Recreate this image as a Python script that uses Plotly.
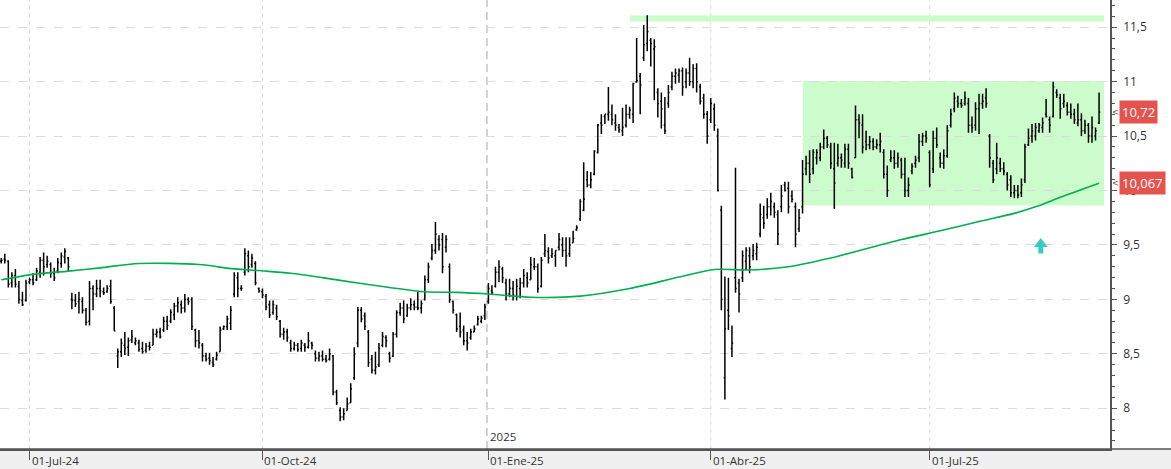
import plotly.graph_objects as go

# ---------------- data ----------------
highs = [
    9.38, 9.42, 9.36, 9.25, 9.28, 9.17, 9.07, 9.18, 9.20, 9.24,
    9.29, 9.39, 9.43, 9.40, 9.34, 9.29, 9.38, 9.43, 9.47, 9.39,
    9.06, 9.05, 9.07, 9.02, 8.92, 9.17, 9.13, 9.18, 9.18, 9.11,
    9.13, 9.18, 8.94, 8.55, 8.64, 8.70, 8.65, 8.72, 8.65, 8.63,
    8.61, 8.60, 8.61, 8.73, 8.73, 8.74, 8.84, 8.85, 8.91, 8.97,
    9.02, 8.99, 9.05, 9.02, 9.02, 8.73, 8.72, 8.60, 8.51, 8.51,
    8.47, 8.52, 8.75, 8.76, 8.85, 8.94, 9.25, 9.25, 9.13, 9.47,
    9.45, 9.42, 9.35, 9.11, 9.10, 9.05, 8.99, 8.99, 8.95, 8.81,
    8.74, 8.73, 8.63, 8.61, 8.60, 8.63, 8.60, 8.70, 8.61, 8.53,
    8.52, 8.53, 8.49, 8.55, 8.49, 8.17, 8.01, 8.00, 8.10, 8.23,
    8.56, 8.93, 8.93, 8.88, 8.72, 8.49, 8.52, 8.60, 8.70, 8.67,
    8.52, 8.70, 8.90, 8.97, 8.99, 8.96, 9.01, 8.99, 9.08, 8.99,
    9.22, 9.34, 9.51, 9.71, 9.59, 9.61, 9.59, 9.33, 8.99, 8.87,
    8.88, 8.76, 8.70, 8.73, 8.76, 8.85, 8.85, 8.96, 9.15, 9.13,
    9.30, 9.36, 9.30, 9.19, 9.19, 9.17, 9.19, 9.20, 9.28, 9.25,
    9.39, 9.38, 9.33, 9.39, 9.60, 9.48, 9.47, 9.45, 9.61, 9.57,
    9.57, 9.57, 9.63, 9.68, 9.92, 10.26, 10.18, 10.17, 10.37, 10.61,
    10.70, 10.70, 10.95, 10.79, 10.70, 10.61, 10.76, 10.79, 10.77, 10.99,
    11.40, 11.08, 11.52, 11.61, 11.40, 11.39, 10.94, 10.90, 10.86, 10.97,
    11.09, 11.12, 11.12, 11.13, 11.12, 11.22, 11.16, 11.17, 10.98, 10.89,
    10.73, 10.85, 10.80, 10.57, 9.86, 9.21, 9.20, 8.76, 10.21, 9.19,
    9.45, 9.48, 9.48, 9.51, 9.52, 9.88, 9.86, 9.93, 9.98, 9.89,
    9.82, 10.05, 10.08, 10.08, 10.00, 9.89, 9.83, 10.28, 10.32, 10.37,
    10.38, 10.38, 10.44, 10.56, 10.50, 10.44, 10.44, 10.43, 10.34, 10.43,
    10.43, 10.21, 10.78, 10.70, 10.70, 10.55, 10.50, 10.48, 10.47, 10.53,
    10.38, 10.23, 10.37, 10.37, 10.35, 10.30, 10.30, 10.12, 10.25, 10.32,
    10.52, 10.53, 10.55, 10.37, 10.55, 10.58, 10.35, 10.38, 10.60, 10.75,
    10.90, 10.87, 10.84, 10.91, 10.85, 10.68, 10.81, 10.89, 10.89, 10.94,
    10.52, 10.28, 10.44, 10.30, 10.26, 10.17, 10.14, 10.05, 10.05, 10.11,
    10.43, 10.57, 10.61, 10.62, 10.62, 10.67, 10.84, 10.68, 11.00, 10.93,
    10.89, 10.89, 10.81, 10.80, 10.75, 10.80, 10.71, 10.65, 10.62, 10.68,
    10.58, 10.90,
]

lows = [
    9.33, 9.33, 9.11, 9.11, 9.11, 8.96, 8.94, 8.98, 9.14, 9.13,
    9.17, 9.20, 9.22, 9.29, 9.20, 9.17, 9.24, 9.29, 9.33, 9.26,
    8.91, 8.93, 8.87, 8.87, 8.76, 8.76, 8.90, 9.02, 9.02, 9.04,
    9.06, 8.96, 8.71, 8.37, 8.47, 8.49, 8.48, 8.60, 8.58, 8.52,
    8.50, 8.51, 8.53, 8.58, 8.65, 8.64, 8.70, 8.72, 8.78, 8.81,
    8.88, 8.87, 8.88, 8.95, 8.72, 8.56, 8.55, 8.43, 8.43, 8.40,
    8.38, 8.44, 8.52, 8.72, 8.72, 8.72, 9.02, 9.02, 9.08, 9.22,
    9.25, 9.29, 9.13, 9.06, 9.01, 8.90, 8.83, 8.86, 8.81, 8.65,
    8.63, 8.61, 8.52, 8.53, 8.52, 8.52, 8.52, 8.55, 8.54, 8.43,
    8.43, 8.43, 8.42, 8.44, 8.12, 8.03, 7.88, 7.89, 7.98, 8.05,
    8.26, 8.56, 8.79, 8.72, 8.38, 8.32, 8.31, 8.38, 8.56, 8.56,
    8.42, 8.47, 8.65, 8.85, 8.78, 8.84, 8.90, 8.90, 8.90, 8.87,
    8.99, 9.15, 9.36, 9.42, 9.45, 9.24, 9.43, 8.97, 8.87, 8.70,
    8.65, 8.58, 8.53, 8.63, 8.70, 8.76, 8.78, 8.81, 8.96, 9.04,
    9.11, 9.16, 9.15, 8.99, 9.02, 8.99, 8.99, 9.01, 9.11, 9.11,
    9.18, 9.27, 9.06, 9.11, 9.39, 9.33, 9.38, 9.30, 9.45, 9.39,
    9.30, 9.39, 9.52, 9.63, 9.72, 9.81, 10.03, 10.02, 10.14, 10.34,
    10.52, 10.61, 10.64, 10.60, 10.55, 10.53, 10.50, 10.58, 10.66, 10.62,
    10.99, 10.70, 11.19, 11.28, 11.14, 10.83, 10.67, 10.57, 10.52, 10.76,
    10.92, 10.98, 10.99, 10.87, 10.94, 10.96, 10.94, 10.90, 10.79, 10.66,
    10.43, 10.62, 10.55, 9.99, 8.90, 8.08, 8.72, 8.47, 9.06, 8.88,
    9.16, 9.27, 9.24, 9.36, 9.36, 9.57, 9.65, 9.74, 9.77, 9.75,
    9.50, 9.80, 9.99, 9.79, 9.89, 9.48, 9.62, 9.79, 10.14, 10.07,
    10.15, 10.24, 10.27, 10.38, 10.39, 10.20, 9.83, 10.22, 10.21, 10.21,
    10.20, 10.11, 10.30, 10.48, 10.34, 10.37, 10.38, 10.37, 10.38, 10.35,
    10.11, 9.94, 10.26, 10.20, 10.21, 10.11, 9.94, 9.94, 10.15, 10.21,
    10.26, 10.41, 10.44, 10.03, 10.16, 10.39, 10.21, 10.20, 10.30, 10.58,
    10.72, 10.76, 10.76, 10.78, 10.53, 10.53, 10.55, 10.52, 10.75, 10.76,
    10.21, 10.07, 10.15, 10.17, 10.14, 10.00, 9.94, 9.93, 9.93, 9.94,
    10.07, 10.41, 10.44, 10.46, 10.53, 10.53, 10.67, 10.53, 10.67, 10.85,
    10.66, 10.76, 10.69, 10.66, 10.61, 10.59, 10.50, 10.52, 10.44, 10.44,
    10.46, 10.61,
]

opens = [
    9.35, 9.37, 9.35, 9.15, 9.22, 9.12, 8.99, 8.99, 9.16, 9.18,
    9.18, 9.25, 9.36, 9.32, 9.32, 9.24, 9.26, 9.33, 9.39, 9.38,
    9.00, 8.99, 8.98, 8.98, 8.90, 8.80, 9.10, 9.05, 9.10, 9.07,
    9.07, 9.12, 8.92, 8.48, 8.52, 8.58, 8.56, 8.63, 8.60, 8.60,
    8.55, 8.53, 8.57, 8.58, 8.68, 8.70, 8.72, 8.80, 8.80, 8.86,
    8.94, 8.95, 8.92, 9.00, 9.00, 8.72, 8.62, 8.58, 8.48, 8.46,
    8.42, 8.45, 8.52, 8.73, 8.75, 8.78, 9.05, 9.20, 9.10, 9.25,
    9.40, 9.32, 9.33, 9.10, 9.07, 9.03, 8.95, 8.88, 8.92, 8.80,
    8.68, 8.70, 8.60, 8.55, 8.58, 8.55, 8.58, 8.56, 8.60, 8.50,
    8.46, 8.48, 8.45, 8.45, 8.48, 8.15, 7.98, 7.92, 7.98, 8.05,
    8.28, 8.60, 8.90, 8.85, 8.70, 8.45, 8.35, 8.40, 8.58, 8.65,
    8.50, 8.48, 8.68, 8.88, 8.92, 8.85, 8.92, 8.95, 8.93, 8.92,
    9.00, 9.18, 9.38, 9.45, 9.55, 9.55, 9.48, 9.30, 8.98, 8.86,
    8.75, 8.72, 8.62, 8.65, 8.70, 8.77, 8.80, 8.85, 8.98, 9.08,
    9.12, 9.25, 9.28, 9.15, 9.05, 9.10, 9.03, 9.10, 9.15, 9.20,
    9.18, 9.30, 9.30, 9.12, 9.42, 9.44, 9.40, 9.40, 9.48, 9.50,
    9.45, 9.42, 9.52, 9.64, 9.74, 9.82, 10.10, 10.05, 10.15, 10.35,
    10.62, 10.68, 10.70, 10.70, 10.62, 10.58, 10.55, 10.60, 10.70, 10.70,
    11.00, 11.05, 11.22, 11.35, 11.38, 11.30, 10.90, 10.82, 10.60, 10.80,
    10.95, 11.05, 11.06, 11.10, 11.00, 11.08, 11.00, 11.12, 10.95, 10.85,
    10.70, 10.65, 10.75, 10.50, 9.82, 8.28, 8.90, 8.55, 9.20, 9.15,
    9.20, 9.35, 9.40, 9.40, 9.42, 9.60, 9.75, 9.78, 9.85, 9.85,
    9.78, 9.85, 10.05, 10.02, 9.95, 9.85, 9.65, 9.85, 10.20, 10.25,
    10.20, 10.30, 10.30, 10.40, 10.48, 10.40, 10.20, 10.25, 10.30, 10.25,
    10.38, 10.20, 10.30, 10.65, 10.60, 10.45, 10.42, 10.45, 10.40, 10.42,
    10.35, 10.15, 10.28, 10.30, 10.25, 10.28, 10.15, 10.00, 10.18, 10.25,
    10.30, 10.45, 10.50, 10.35, 10.20, 10.48, 10.30, 10.25, 10.32, 10.60,
    10.75, 10.82, 10.80, 10.80, 10.80, 10.60, 10.60, 10.75, 10.80, 10.85,
    10.50, 10.25, 10.20, 10.25, 10.20, 10.15, 10.10, 9.98, 10.00, 9.98,
    10.10, 10.42, 10.50, 10.50, 10.55, 10.58, 10.70, 10.65, 10.68, 10.90,
    10.85, 10.80, 10.78, 10.72, 10.70, 10.62, 10.65, 10.55, 10.60, 10.50,
    10.50, 10.62,
]

closes = [
    9.36, 9.36, 9.14, 9.22, 9.14, 9.00, 8.95, 9.15, 9.18, 9.15,
    9.26, 9.36, 9.30, 9.35, 9.24, 9.20, 9.34, 9.40, 9.44, 9.30,
    8.99, 8.96, 9.00, 8.90, 8.79, 9.10, 9.05, 9.10, 9.08, 9.06,
    9.10, 8.98, 8.71, 8.52, 8.60, 8.55, 8.62, 8.66, 8.62, 8.54,
    8.52, 8.57, 8.56, 8.68, 8.70, 8.66, 8.80, 8.76, 8.88, 8.94,
    8.97, 8.92, 9.00, 8.98, 8.75, 8.62, 8.60, 8.48, 8.45, 8.44,
    8.40, 8.49, 8.72, 8.75, 8.82, 8.90, 9.22, 9.10, 9.10, 9.42,
    9.30, 9.38, 9.15, 9.08, 9.04, 8.93, 8.86, 8.95, 8.84, 8.68,
    8.70, 8.65, 8.55, 8.58, 8.54, 8.60, 8.56, 8.62, 8.58, 8.46,
    8.48, 8.45, 8.44, 8.50, 8.15, 8.05, 7.92, 7.95, 8.04, 8.18,
    8.50, 8.90, 8.82, 8.75, 8.42, 8.35, 8.38, 8.55, 8.66, 8.62,
    8.46, 8.68, 8.88, 8.92, 8.82, 8.92, 8.95, 8.93, 8.92, 8.96,
    9.18, 9.30, 9.45, 9.60, 9.50, 9.30, 9.55, 9.00, 8.90, 8.73,
    8.70, 8.62, 8.60, 8.70, 8.73, 8.82, 8.83, 8.93, 9.10, 9.06,
    9.25, 9.30, 9.20, 9.05, 9.10, 9.04, 9.12, 9.15, 9.22, 9.15,
    9.32, 9.30, 9.10, 9.36, 9.45, 9.38, 9.42, 9.45, 9.55, 9.45,
    9.40, 9.50, 9.56, 9.66, 9.90, 9.92, 10.05, 10.10, 10.36, 10.60,
    10.60, 10.70, 10.72, 10.65, 10.60, 10.56, 10.58, 10.70, 10.74, 10.98,
    11.01, 10.97, 11.34, 11.46, 11.35, 11.32, 10.80, 10.75, 10.55, 10.90,
    11.05, 11.08, 11.10, 10.95, 11.08, 11.00, 11.12, 11.00, 10.82, 10.70,
    10.50, 10.80, 10.60, 10.00, 9.00, 8.73, 8.85, 8.60, 9.10, 9.05,
    9.40, 9.45, 9.30, 9.45, 9.48, 9.78, 9.70, 9.85, 9.90, 9.80,
    9.60, 9.95, 10.00, 9.85, 9.92, 9.60, 9.75, 10.15, 10.25, 10.15,
    10.35, 10.35, 10.40, 10.48, 10.42, 10.25, 10.07, 10.30, 10.28, 10.38,
    10.25, 10.12, 10.65, 10.62, 10.40, 10.42, 10.45, 10.40, 10.42, 10.45,
    10.15, 10.00, 10.30, 10.25, 10.30, 10.15, 10.00, 10.05, 10.22, 10.28,
    10.45, 10.50, 10.48, 10.05, 10.48, 10.42, 10.25, 10.32, 10.55, 10.70,
    10.85, 10.80, 10.78, 10.85, 10.60, 10.58, 10.75, 10.80, 10.82, 10.80,
    10.30, 10.10, 10.30, 10.20, 10.18, 10.05, 9.98, 10.00, 9.96, 10.05,
    10.40, 10.48, 10.55, 10.58, 10.60, 10.62, 10.68, 10.60, 10.95, 10.88,
    10.75, 10.82, 10.72, 10.70, 10.65, 10.65, 10.55, 10.60, 10.50, 10.58,
    10.55, 10.72,
]

# 200-session moving average, read at sample bars
ma_idx = [0, 9, 19, 28, 39, 56, 66, 75, 82, 91, 101, 110, 120, 129, 138,
          150, 164, 178, 192, 202, 212, 223, 235, 255, 266, 277, 287, 293, 301, 311]
ma_val = [9.18, 9.23, 9.26, 9.29, 9.33, 9.32, 9.28, 9.26, 9.24, 9.20, 9.15, 9.11,
          9.07, 9.065, 9.05, 9.02, 9.03, 9.10, 9.205, 9.275, 9.27, 9.30, 9.38,
          9.55, 9.63, 9.715, 9.79, 9.85, 9.95, 10.067]

# month labels (bar index of the first session of each month)
month_idx = [8, 74, 138, 201, 263]
month_labels = ["01-Jul-24", "01-Oct-24", "01-Ene-25", "01-Abr-25", "01-Jul-25"]
year_idx = 138
year_label = "2025"

# y-axis ticks
y_ticks = [8, 8.5, 9, 9.5, 10, 10.5, 11, 11.5]
y_ticktext = ["8", "8,5", "9", "9,5", "10", "10,5", "11", "11,5"]

# drawn objects: range box, resistance band and buy signal
box_x = [227.1, 312.4]
box_y = [9.862, 11.006]
resist_x = [178.1, 312.4]
resist_y = [11.553, 11.608]
signal_idx = [294.5]
signal_price = [9.51]

FONT = "Open Sans, Noto Sans, sans-serif"
SIGNAL_COLOR = "#38c9c9"

# ---------------- figure ----------------
x = list(range(len(closes)))

fig = go.Figure()
fig.add_trace(go.Ohlc(
    x=x, open=opens, high=highs, low=lows, close=closes,
    increasing=dict(line=dict(color="#000000", width=1.5)),
    decreasing=dict(line=dict(color="#000000", width=1.5)),
    tickwidth=0.35, hoverinfo="skip", showlegend=False,
))
fig.add_trace(go.Scatter(
    x=ma_idx, y=ma_val, mode="lines", line_shape="spline",
    line=dict(color="#00b050", width=1.6, smoothing=0.8),
    hoverinfo="skip", showlegend=False,
))
# buy-signal arrow head
fig.add_trace(go.Scatter(
    x=signal_idx, y=signal_price, mode="markers",
    marker=dict(symbol="triangle-up", size=12, color=SIGNAL_COLOR, line=dict(width=0)),
    hoverinfo="skip", showlegend=False,
))

shapes = []
shapes.append(dict(type="rect", xref="x", yref="y", x0=box_x[0], x1=box_x[1],
                   y0=box_y[0], y1=box_y[1], fillcolor="#ccfccc",
                   line=dict(width=0), layer="below"))
shapes.append(dict(type="rect", xref="x", yref="y", x0=resist_x[0], x1=resist_x[1],
                   y0=resist_y[0], y1=resist_y[1], fillcolor="#ccfccc",
                   line=dict(width=0), layer="below"))
for mi in month_idx:
    if mi == year_idx:
        shapes.append(dict(type="line", xref="x", yref="paper", x0=mi - 0.4, x1=mi - 0.4,
                           y0=0, y1=1, line=dict(color="#c4c4c4", width=1.5, dash="8px,5px"),
                           layer="below"))
    else:
        shapes.append(dict(type="line", xref="x", yref="paper", x0=mi, x1=mi,
                           y0=0, y1=1, line=dict(color="#dcdcdc", width=1, dash="4px,4px"),
                           layer="below"))
W, PW, PH = 1171, 1110, 449
shapes.append(dict(type="rect", xref="paper", yref="paper", x0=0, x1=W / PW,
                   y0=-20 / PH, y1=0, fillcolor="#f0f0f0", line=dict(width=0), layer="below"))
shapes.append(dict(type="line", xref="paper", yref="paper", x0=0, x1=W / PW,
                   y0=0, y1=0, line=dict(color="#555555", width=1.5)))

annotations = []
for mi, lab in zip(month_idx, month_labels):
    annotations.append(dict(x=mi, xref="x", y=0, yref="paper", text=lab,
                            showarrow=False, xanchor="left", yanchor="middle",
                            xshift=0, yshift=-11.5,
                            font=dict(family=FONT, size=11.5, color="#333333")))
annotations.append(dict(x=year_idx, xref="x", y=0, yref="paper", text=year_label,
                        showarrow=False, xanchor="left", yanchor="bottom", yshift=3,
                        font=dict(family=FONT, size=11.5, color="#333333")))

last_close = closes[-1]
ma_last = ma_val[-1]
for val, txt in [(last_close, f"{last_close:.2f}".replace(".", ",")),
                 (ma_last, f"{ma_last:.3f}".replace(".", ","))]:
    annotations.append(dict(x=1, xref="paper", y=val, yref="y", text=txt,
                            showarrow=False, xanchor="left", yanchor="middle", xshift=9,
                            bgcolor="#e5534f", borderpad=2,
                            font=dict(family=FONT, size=13, color="#ffffff")))
    annotations.append(dict(x=1, xref="paper", y=val, yref="y", text="<",
                            showarrow=False, xanchor="left", yanchor="middle", xshift=0,
                            font=dict(family="DejaVu Sans", size=8, color="#555555")))

# buy-signal arrow stem
annotations.append(dict(x=signal_idx[0], y=signal_price[0], xref="x", yref="y", text="",
                        showarrow=True, ax=0, ay=11, arrowhead=0,
                        arrowwidth=5, arrowcolor=SIGNAL_COLOR, standoff=0, startstandoff=0))

fig.update_layout(
    width=1171, height=469,
    margin=dict(l=0, r=61, t=0, b=20),
    paper_bgcolor="#ffffff", plot_bgcolor="#ffffff",
    shapes=shapes, annotations=annotations,
    showlegend=False,
    xaxis=dict(range=[-0.36, 314.1], showgrid=False, zeroline=False,
               rangeslider=dict(visible=False),
               tickvals=month_idx, ticktext=[""] * len(month_idx),
               ticks="outside", ticklen=9, tickcolor="#555555",
               showline=True, linecolor="#555555", linewidth=1.5),
    yaxis=dict(range=[7.626, 11.75], side="right", zeroline=False,
               tickvals=y_ticks, ticktext=y_ticktext,
               ticks="outside", ticklen=5, tickcolor="#555555",
               ticklabelstandoff=4,
               showgrid=True, gridcolor="#dcdcdc", griddash="dash", gridwidth=1,
               showline=True, linecolor="#555555", linewidth=1.5,
               minor=dict(dtick=0.1, ticks="outside", ticklen=3, tickcolor="#555555",
                          showgrid=False),
               tickfont=dict(family=FONT, size=12, color="#333333")),
)

fig.write_html("out.html")
